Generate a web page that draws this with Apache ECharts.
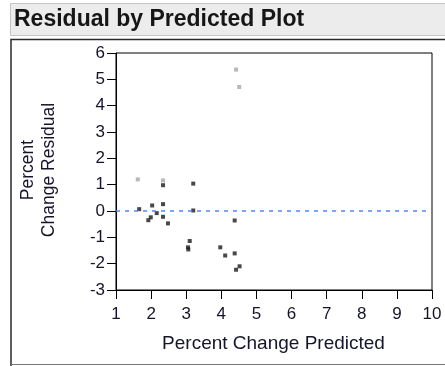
<!DOCTYPE html>
<html>
<head>
<meta charset="utf-8">
<script src="https://cdn.jsdelivr.net/npm/echarts@6/dist/echarts.min.js"></script>
<style>html,body{margin:0;padding:0;background:#fff;}#c{width:445px;height:366px;}</style>
</head>
<body>
<div id="c"></div>
<script>
var titleText = 'Residual by Predicted Plot';
var xTitle = 'Percent Change Predicted';
var yTitle = 'Percent\nChange Residual';
var xTicks = [1, 10, 1];   // min, max, interval
var yTicks = [-3, 6, 1];
var grayPoints = [[1.62, 1.2], [2.34, 1.16], [4.42, 5.37], [4.51, 4.71]];
var blackPoints = [
  [2.34, 0.98], [3.2, 1.04], [1.66, 0.07], [2.03, 0.21], [2.34, 0.26],
  [2.16, -0.08], [1.99, -0.24], [1.92, -0.35], [2.34, -0.22], [2.48, -0.47],
  [3.2, 0.02], [3.1, -1.14], [3.05, -1.38], [3.06, -1.46],
  [4.38, -0.36], [3.97, -1.38], [4.11, -1.69], [4.38, -1.61], [4.42, -2.23], [4.52, -2.1]
];
var refLine = 0;

var FONT = 'Liberation Sans, Arial, sans-serif';
var chart = echarts.init(document.getElementById('c'), null, {renderer: 'canvas'});
chart.setOption({
  animation: false,
  grid: {left: 116, top: 53, width: 316, height: 237, show: true, borderColor: '#000', borderWidth: 1, backgroundColor: 'transparent'},
  xAxis: {
    type: 'value', min: xTicks[0], max: xTicks[1], interval: xTicks[2],
    axisLine: {onZero: false, lineStyle: {color: '#000', width: 1}},
    axisTick: {length: 9, lineStyle: {color: '#000'}},
    axisLabel: {margin: 16, color: '#14142a', fontSize: 17, fontFamily: FONT},
    splitLine: {show: false}
  },
  yAxis: {
    type: 'value', min: yTicks[0], max: yTicks[1], interval: yTicks[2],
    axisLine: {show: true, onZero: false, lineStyle: {color: '#000', width: 1}},
    axisTick: {show: true, length: 9, lineStyle: {color: '#000'}},
    axisLabel: {margin: 11, color: '#14142a', fontSize: 17, fontFamily: FONT},
    splitLine: {show: false}
  },
  series: [
    {
      type: 'scatter', data: grayPoints, symbol: 'rect', symbolSize: 4,
      itemStyle: {color: '#a6a6a6'}, z: 3
    },
    {
      type: 'scatter', data: blackPoints, symbol: 'rect', symbolSize: 4,
      itemStyle: {color: '#1a1a1a'}, z: 4,
      markLine: {
        silent: true, symbol: 'none', label: {show: false},
        lineStyle: {color: '#4d86f7', type: [4, 5], width: 1.6, opacity: 1},
        emphasis: {disabled: true},
        data: [{yAxis: refLine}]
      }
    }
  ],
  graphic: [
    {type: 'rect', shape: {x: 10.5, y: 3.5, width: 450, height: 32}, style: {fill: '#ececec', stroke: '#c4c4c4', lineWidth: 1}, z: -1},
    {type: 'text', x: 14, y: 20, style: {text: titleText, font: 'bold 23px ' + FONT, fill: '#161616', verticalAlign: 'middle', align: 'left'}},
    {type: 'polyline', shape: {points: [[11, 366], [11, 39.5], [450, 39.5]]}, style: {stroke: '#2a2a2a', lineWidth: 1.5, fill: null}},
    {type: 'line', shape: {x1: 11, y1: 364.5, x2: 450, y2: 364.5}, style: {stroke: '#777', lineWidth: 1}},
    {type: 'text', x: 273.5, y: 344, style: {text: xTitle, font: '19px ' + FONT, fill: '#14142a', align: 'center', verticalAlign: 'middle'}},
    {type: 'text', x: 39, y: 170, rotation: Math.PI / 2, style: {text: yTitle, font: '17.5px ' + FONT, fill: '#14142a', align: 'center', verticalAlign: 'middle', lineHeight: 21}}
  ]
});
</script>
</body>
</html>
